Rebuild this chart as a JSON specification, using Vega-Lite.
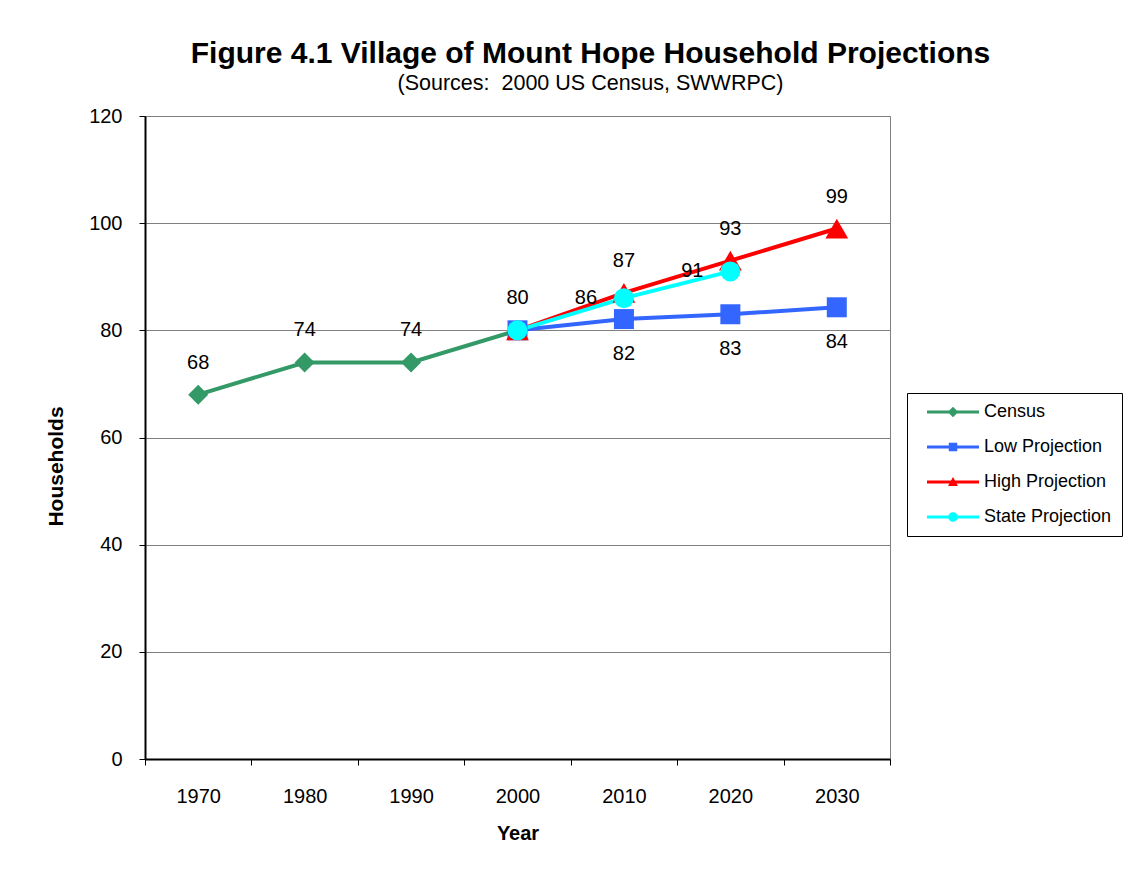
{
  "$schema": "https://vega.github.io/schema/vega-lite/v6.json",
  "width": 745,
  "height": 643,
  "autosize": {"type": "none"},
  "padding": {"left": 145, "top": 116, "right": 241, "bottom": 123},
  "background": "white",
  "config": {
    "font": "Liberation Sans",
    "view": {"stroke": "#808080", "strokeWidth": 1},
    "axis": {"labelFont": "Liberation Sans", "titleFont": "Liberation Sans", "labelColor": "black", "titleColor": "black"}
  },
  "title": {
    "text": "Figure 4.1 Village of Mount Hope Household Projections",
    "subtitle": "(Sources:\u00a0 2000 US Census, SWWRPC)",
    "font": "Liberation Sans",
    "fontSize": 30,
    "fontWeight": "bold",
    "color": "black",
    "subtitleFont": "Liberation Sans",
    "subtitleFontSize": 21.5,
    "subtitleColor": "black",
    "subtitlePadding": 4,
    "anchor": "middle",
    "dx": 73,
    "offset": 12
  },
  "data": {
    "values": [
      {"year": "1970", "series": "Census", "value": 68},
      {"year": "1980", "series": "Census", "value": 74},
      {"year": "1990", "series": "Census", "value": 74},
      {"year": "2000", "series": "Census", "value": 80},
      {"year": "2000", "series": "Low Projection", "value": 80},
      {"year": "2010", "series": "Low Projection", "value": 82.1},
      {"year": "2020", "series": "Low Projection", "value": 83},
      {"year": "2030", "series": "Low Projection", "value": 84.3},
      {"year": "2000", "series": "High Projection", "value": 80},
      {"year": "2010", "series": "High Projection", "value": 87},
      {"year": "2020", "series": "High Projection", "value": 93},
      {"year": "2030", "series": "High Projection", "value": 99},
      {"year": "2000", "series": "State Projection", "value": 80},
      {"year": "2010", "series": "State Projection", "value": 86},
      {"year": "2020", "series": "State Projection", "value": 91}
    ]
  },
  "encoding": {
    "x": {
      "field": "year",
      "type": "ordinal",
      "scale": {"type": "band", "domain": ["1970", "1980", "1990", "2000", "2010", "2020", "2030"], "paddingInner": 0, "paddingOuter": 0},
      "axis": {
        "title": "Year",
        "titleFontSize": 20,
        "titleFontWeight": "bold",
        "titlePadding": 17,
        "labelFontSize": 20,
        "labelAngle": 0,
        "labelPadding": 21,
        "tickBand": "extent",
        "tickSize": 6,
        "tickColor": "black",
        "tickWidth": 1,
        "domainColor": "black",
        "domainWidth": 2,
        "grid": false
      }
    },
    "y": {
      "field": "value",
      "type": "quantitative",
      "scale": {"domain": [0, 120], "nice": false},
      "axis": {
        "title": "Households",
        "titleFontSize": 21,
        "titleFontWeight": "bold",
        "titleAngle": -90,
        "titleAlign": "center",
        "titleBaseline": "middle",
        "titleX": -89,
        "titleY": 350,
        "labelFontSize": 20,
        "labelPadding": 17,
        "values": [0, 20, 40, 60, 80, 100, 120],
        "tickSize": 6,
        "tickColor": "black",
        "domainColor": "black",
        "domainWidth": 2,
        "grid": true,
        "gridColor": "#808080",
        "gridWidth": 1
      }
    },
    "color": {
      "field": "series",
      "type": "nominal",
      "scale": {
        "domain": ["Census", "Low Projection", "High Projection", "State Projection"],
        "range": ["#339966", "#3366FF", "#FF0000", "#00FFFF"]
      },
      "legend": {
        "title": null,
        "orient": "none",
        "legendX": 762,
        "legendY": 277,
        "padding": 10,
        "strokeColor": "black",
        "fillColor": "white",
        "labelFont": "Liberation Sans",
        "labelFontSize": 18,
        "labelColor": "black",
        "labelOffset": 22,
        "labelExpr": "datum.label + '\u2002'",
        "symbolSize": 100,
        "symbolStrokeWidth": 0,
        "symbolOffset": 27,
        "rowPadding": 17,
        "encode": {
          "symbols": {
            "update": {
              "shape": {"signal": "datum.value === 'Census' ? 'M-5.2,-0.3H5.2V0.3H-5.2ZM0,-1.05L1.05,0L0,1.05L-1.05,0Z' : datum.value === 'Low Projection' ? 'M-5.2,-0.3H5.2V0.3H-5.2ZM-0.85,-0.85H0.85V0.85H-0.85Z' : datum.value === 'High Projection' ? 'M-5.2,-0.3H5.2V0.3H-5.2ZM0,-1L1,0.8H-1Z' : 'M-5.2,-0.3H5.2V0.3H-5.2ZM0.95,0A0.95,0.95,0,1,1,-0.95,0A0.95,0.95,0,1,1,0.95,0Z'"},
              "fill": {"signal": "datum.value === 'Census' ? '#339966' : datum.value === 'Low Projection' ? '#3366FF' : datum.value === 'High Projection' ? '#FF0000' : '#00FFFF'"}
            }
          }
        }
      }
    }
  },
  "layer": [
    {
      "mark": {"type": "line", "strokeWidth": 4},
      "encoding": {"detail": {"field": "series"}}
    },
    {
      "transform": [{"filter": "datum.series === 'Census'"}],
      "mark": {"type": "point", "filled": true, "opacity": 1, "size": 400, "shape": "diamond"}
    },
    {
      "transform": [{"filter": "datum.series === 'Low Projection'"}],
      "mark": {"type": "point", "filled": true, "opacity": 1, "size": 400, "shape": "square"}
    },
    {
      "transform": [{"filter": "datum.series === 'High Projection'"}],
      "mark": {"type": "point", "filled": true, "opacity": 1, "size": 520, "shape": "triangle-up"}
    },
    {
      "transform": [{"filter": "datum.series === 'State Projection'"}],
      "mark": {"type": "point", "filled": true, "opacity": 1, "size": 400, "shape": "circle"}
    },
    {
      "transform": [{"filter": "datum.series === 'Census' || (datum.series === 'High Projection' && datum.year !== '2000')"}],
      "mark": {"type": "text", "fontSize": 20, "dy": -32, "color": "black", "font": "Liberation Sans"},
      "encoding": {"text": {"field": "value", "type": "quantitative", "format": ".0f"}, "color": {"value": "black"}}
    },
    {
      "transform": [{"filter": "datum.series === 'Low Projection' && datum.year !== '2000'"}],
      "mark": {"type": "text", "fontSize": 20, "dy": 35, "color": "black", "font": "Liberation Sans"},
      "encoding": {"text": {"field": "value", "type": "quantitative", "format": ".0f"}, "color": {"value": "black"}}
    },
    {
      "transform": [{"filter": "datum.series === 'State Projection' && datum.year !== '2000'"}],
      "mark": {"type": "text", "fontSize": 20, "dx": -38, "dy": 0, "color": "black", "font": "Liberation Sans"},
      "encoding": {"text": {"field": "value", "type": "quantitative", "format": ".0f"}, "color": {"value": "black"}}
    }
  ]
}
